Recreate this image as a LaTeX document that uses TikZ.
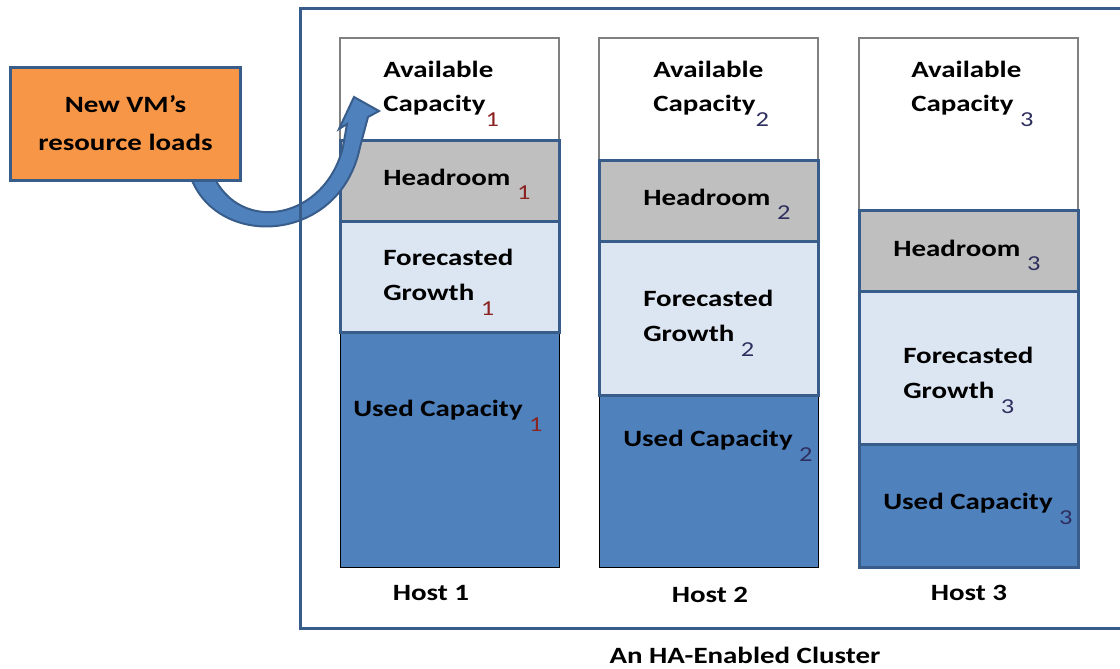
\documentclass[tikz,border=0pt]{standalone}
\usepackage{fontspec}
\setmainfont{Carlito}[FakeStretch=1.24]
\usetikzlibrary{calc}

\definecolor{usedblue}{HTML}{4F81BD}
\definecolor{edgeblue}{HTML}{385D8A}
\definecolor{growthblue}{HTML}{DCE6F2}
\definecolor{headgray}{HTML}{BFBFBF}
\definecolor{availgray}{HTML}{808080}
\definecolor{vmorange}{HTML}{F79646}
\definecolor{subred}{HTML}{8B2323}
\definecolor{subnavy}{HTML}{2F2F5F}

\newcommand{\hsub}[2][black]{\raisebox{-11pt}[0pt][0pt]{\fontsize{16}{16}\selectfont\mdseries\color{#1}#2}}

\begin{document}
\begin{tikzpicture}[x=0.75pt, y=-0.75pt, font=\fontsize{17.5}{26}\selectfont\bfseries,
  lbl/.style={anchor=west, align=left, inner sep=0pt},
  availbox/.style={draw=availgray, line width=1.5pt, fill=white},
  headbox/.style={draw=edgeblue, line width=2.25pt, fill=headgray},
  growthbox/.style={draw=edgeblue, line width=2.25pt, fill=growthblue},
  usedbox/.style={fill=usedblue}]
\useasboundingbox (0,0) rectangle (1120,668);

% host 1
\draw [availbox] (340,38) rectangle (559,140);
\draw [usedbox] (340,332) rectangle (559,567);
\draw [headbox] (340,140) rectangle (559,221);
\draw [growthbox] (340,221) rectangle (559,332);

% host 2
\draw [availbox] (599,38) rectangle (818,160);
\draw [usedbox] (599,395) rectangle (818,567);
\draw [headbox] (599,160) rectangle (818,241);
\draw [growthbox] (599,241) rectangle (818,395);

% host 3
\draw [availbox] (859,38) rectangle (1078,210);
\draw [usedbox, draw=edgeblue, line width=2.25pt] (859,444) rectangle (1078,567);
\draw [headbox] (859,210) rectangle (1078,291);
\draw [growthbox] (859,291) rectangle (1078,444);

\node [lbl] (av1) at (383,88) {Available\\Capacity\hsub[subred]{1}};
\node [lbl] (hr1) at (383,177) {Headroom \hsub[subred]{1}};
\node [lbl] (fg1) at (383,275) {Forecasted\\Growth \hsub[subred]{1}};
\node [lbl] (uc1) at (353,410) {Used Capacity \hsub[subred]{1}};

\node [lbl] (av2) at (653,88) {Available\\Capacity\hsub[subnavy]{2}};
\node [lbl] (hr2) at (643,197) {Headroom \hsub[subnavy]{2}};
\node [lbl] (fg2) at (643,316) {Forecasted\\Growth \hsub[subnavy]{2}};
\node [lbl] (uc2) at (623,440) {Used Capacity \hsub[subnavy]{2}};

\node [lbl] (av3) at (911,88) {Available\\Capacity \hsub[subnavy]{3}};
\node [lbl] (hr3) at (893,248) {Headroom \hsub[subnavy]{3}};
\node [lbl] (fg3) at (903,373) {Forecasted\\Growth \hsub[subnavy]{3}};
\node [lbl] (uc3) at (883,503) {Used Capacity \hsub[subnavy]{3}};

\node (host1) at (431,593) {Host 1};
\node (host2) at (710,595) {Host 2};
\node (host3) at (969,593) {Host 3};

% curved arrow
\draw [draw=edgeblue, line width=1.5pt, fill=usedblue]
  (190,175) .. controls (215,250) and (340,245) .. (360,147)
  -- (368,117) -- (379,111) -- (354,97) -- (339,129) -- (347,124)
  -- (343,147) .. controls (325,220) and (240,235) .. (213,175) -- cycle;

\node [rectangle, draw=edgeblue, line width=2.25pt, fill=vmorange,
  minimum width=172.5pt, minimum height=84.75pt, align=center,
  font=\fontsize{17.5}{28.5}\selectfont\bfseries]
  (newvm) at (125.5,123.5) {New VM’s\\resource loads};

% cluster frame
\draw [edgeblue, line width=2.25pt] (300,8) rectangle (1124,628);
\node (cluster) at (745,655) {An HA-Enabled Cluster};

\end{tikzpicture}
\end{document}
